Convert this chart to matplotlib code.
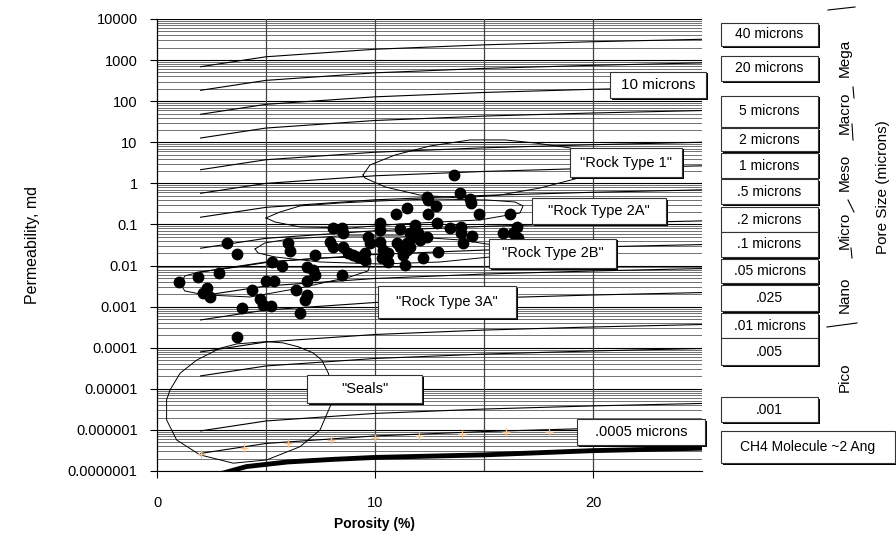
import numpy as np
import matplotlib
matplotlib.use("Agg")
import matplotlib.pyplot as plt
from matplotlib.patches import Rectangle
from matplotlib.ticker import FixedLocator, NullFormatter

plt.rcParams['font.family'] = ['Liberation Sans', 'DejaVu Sans']

line_phi = [2, 5, 10, 15, 20, 25]
# permeability (md) of each pore-throat-size line at those porosities
pore_lines = {
    "40":    [690, 1205, 1837, 2350, 2800, 3210],
    "20":    [184, 321, 490, 627, 746, 855],
    "10":    [48, 83.8, 127.6, 163, 194.5, 223],
    "5":     [12.7, 22.2, 33.9, 43.4, 51.6, 59.2],
    "2":     [2.15, 3.76, 5.73, 7.33, 8.73, 10.0],
    "1":     [0.574, 1.0, 1.53, 1.95, 2.33, 2.67],
    ".5":    [0.150, 0.261, 0.398, 0.509, 0.607, 0.695],
    ".2":    [0.0264, 0.046, 0.0702, 0.0897, 0.107, 0.122],
    ".1":    [0.00698, 0.0122, 0.0186, 0.0238, 0.0283, 0.0324],
    ".05":   [0.00182, 0.00318, 0.00484, 0.0062, 0.00738, 0.00845],
    ".025":  [4.74e-4, 8.28e-4, 1.26e-3, 1.61e-3, 1.92e-3, 2.2e-3],
    ".01":   [7.9e-5, 1.38e-4, 2.1e-4, 2.69e-4, 3.2e-4, 3.67e-4],
    ".005":  [2.06e-5, 3.6e-5, 5.48e-5, 7.0e-5, 8.36e-5, 9.57e-5],
    ".001":  [9.46e-7, 1.65e-6, 2.52e-6, 3.22e-6, 3.84e-6, 4.4e-6],
    ".0005": [2.68e-7, 4.68e-7, 7.13e-7, 9.12e-7, 1.09e-6, 1.24e-6],
}

# .0005 micron calculated points (orange crosses)
mark_phi = [2, 4, 6, 8, 10, 12, 14, 16, 18]
mark_k = [2.61e-7, 3.71e-7, 4.91e-7, 5.71e-7, 6.5e-7, 7.15e-7, 7.85e-7, 8.8e-7, 8.8e-7]

# CH4 molecule line (thick)
ch4_phi = [2.6, 3.0, 4.1, 5, 6, 8, 10, 15, 20, 25]
ch4_k = [7e-8, 8.8e-8, 1.28e-7, 1.45e-7, 1.66e-7, 1.91e-7, 2.14e-7, 2.47e-7, 3.13e-7, 3.59e-7]

# core samples
sample_phi = [3.21, 3.68, 2.84, 1.89, 1.03, 2.28, 2.12, 2.45, 4.36, 5.0, 5.37, 4.72, 4.88,
              5.22, 3.90, 3.68, 5.99, 6.08, 5.26, 5.72, 6.38, 6.56, 6.87, 7.17, 7.25, 8.47,
              6.87, 6.87, 6.79, 7.25, 8.09, 8.47, 8.55, 7.94, 8.09, 8.55, 8.78, 9.0, 9.23,
              9.54, 9.54, 9.69, 9.77, 10.23, 10.38, 10.61, 11.0, 11.15, 11.45, 11.30, 11.76,
              11.61, 10.31, 10.61, 11.38, 12.22, 12.9, 10.23, 10.23, 11.15, 11.83, 11.99,
              12.83, 13.44, 13.94, 13.94, 14.44, 12.37, 12.06, 11.61, 11.45, 14.05, 11.45,
              10.95, 12.44, 12.8, 12.42, 14.4, 14.78, 16.19, 16.5, 15.89, 16.34, 16.57,
              13.62, 13.9, 12.37, 14.36]
sample_k = [0.0349, 0.0186, 0.0067, 0.0054, 0.0039, 0.0029, 0.0021, 0.00175, 0.0026, 0.0043,
            0.0043, 0.0015, 0.00107, 0.00104, 0.00093, 0.00018, 0.0349, 0.0226, 0.0124,
            0.00995, 0.0026, 0.0007, 0.0094, 0.0078, 0.0059, 0.0059, 0.0041, 0.0019, 0.00146,
            0.0181, 0.0809, 0.0809, 0.0611, 0.0382, 0.0288, 0.0288, 0.0199, 0.0181, 0.0165,
            0.0137, 0.0199, 0.0505, 0.0349, 0.0382, 0.024, 0.0199, 0.0349, 0.0288, 0.024,
            0.0181, 0.0505, 0.0288, 0.0151, 0.0124, 0.0104, 0.0151, 0.0218, 0.107, 0.0735,
            0.0764, 0.0972, 0.0611, 0.107, 0.0809, 0.0883, 0.0611, 0.0525, 0.0505, 0.042,
            0.0611, 0.0349, 0.0361, 0.248, 0.18, 0.18, 0.282, 0.394, 0.339, 0.18, 0.18,
            0.0855, 0.0611, 0.0611, 0.0461, 1.63, 0.594, 0.474, 0.41]

# rock type envelopes (porosity, permeability)
rt1_phi = [9.45, 9.77, 10.92, 12.52, 14.36, 15.96, 17.34, 18.94, 20.3, 20.55, 19.86, 18.81,
           17.57, 15.73, 13.9, 12.06, 10.46, 9.54, 9.45]
rt1_k = [1.6, 2.8, 4.9, 8.1, 11.4, 11.4, 9.6, 7.3, 4.15, 2.8, 1.6, 1.14, 0.77, 0.52, 0.44,
         0.52, 0.82, 1.35, 1.6]
rt2a_phi = [5.0, 5.64, 6.56, 8.39, 10.23, 12.52, 15.14, 16.42, 16.79, 16.65, 14.82, 12.98,
            11.15, 8.85, 6.56, 5.41, 5.0]
rt2a_k = [0.144, 0.201, 0.282, 0.333, 0.373, 0.417, 0.394, 0.352, 0.282, 0.19, 0.129, 0.115,
          0.103, 0.082, 0.087, 0.115, 0.144]
rt2b_phi = [4.5, 4.95, 6.10, 8.39, 11.15, 13.9, 15.73, 15.96, 15.73, 12.98, 10.23, 7.48, 5.41,
            4.63, 4.5]
rt2b_k = [0.0254, 0.0355, 0.0444, 0.0525, 0.0525, 0.042, 0.030, 0.0214, 0.0171, 0.0122,
          0.0109, 0.0122, 0.0162, 0.0203, 0.0254]
rt3a_phi = [1.06, 1.28, 1.97, 3.35, 5.18, 7.48, 9.31, 9.82, 9.68, 8.85, 6.56, 4.27, 2.2, 1.28,
            1.06]
rt3a_k = [0.00356, 0.0056, 0.007, 0.0087, 0.0122, 0.0153, 0.0162, 0.0122, 0.0074, 0.0053,
          0.00285, 0.00172, 0.00193, 0.0024, 0.00356]
seal_phi = [5.03, 5.78, 6.47, 7.16, 7.56, 7.86, 8.07, 8.07, 7.94, 7.48, 6.56, 5.03, 3.50,
            1.97, 0.90, 0.44, 0.44, 0.6, 1.06, 1.82, 2.89, 3.66, 5.03]
seal_k = [1.41e-4, 1.31e-4, 1.06e-4, 7.5e-5, 5.0e-5, 2.4e-5, 9.4e-6, 5.4e-6, 3.7e-6, 1.0e-6,
          3.9e-7, 1.86e-7, 1.55e-7, 2.47e-7, 5.7e-7, 1.75e-6, 5.4e-6, 9.4e-6, 2.4e-5, 5.0e-5,
          9.7e-5, 1.24e-4, 1.41e-4]

ytick_vals = [1e-7, 1e-6, 1e-5, 1e-4, 1e-3, 1e-2, 1e-1, 1, 10, 100, 1000, 10000]
ytick_labels = ["0.0000001", "0.000001", "0.00001", "0.0001", "0.001", "0.01", "0.1",
                "1", "10", "100", "1000", "10000"]

W, H = 896, 546
fig = plt.figure(figsize=(W / 100, H / 100), dpi=100)
ax = fig.add_axes([157 / W, 1 - 471 / H, (702 - 157) / W, (471 - 19) / H])
ax.set_yscale('log')
ax.set_xlim(0, 25)
ax.set_ylim(1e-7, 1e4)

# horizontal grid: decades plus 2..9
minor = [m * 10.0 ** e for e in range(-7, 4) for m in range(2, 10)]
for v in minor:
    ax.axhline(v, color='0.35', lw=0.6, zorder=1)
for v in ytick_vals:
    ax.axhline(v, color='black', lw=0.8, zorder=1)
for xv in [5, 10, 15, 20]:
    ax.axvline(xv, color='0.25', lw=0.9, zorder=1)

for name, ks in pore_lines.items():
    ax.plot(line_phi, ks, color='black', lw=0.8, zorder=2)
ax.plot(mark_phi, mark_k, '+', color='#f5c08c', ms=6, mew=1.0, zorder=3)
ax.plot(ch4_phi, ch4_k, color='black', lw=3.5, zorder=3, clip_on=True)

for px, pk in [(rt1_phi, rt1_k), (rt2a_phi, rt2a_k), (rt2b_phi, rt2b_k),
               (rt3a_phi, rt3a_k), (seal_phi, seal_k)]:
    ax.plot(px, pk, color='black', lw=0.7, zorder=2)

ax.plot(sample_phi, sample_k, 'o', color='black', ms=7.5, zorder=4)

ax.yaxis.set_major_locator(FixedLocator(ytick_vals))
ax.set_yticklabels(ytick_labels)
ax.yaxis.set_minor_formatter(NullFormatter())
ax.tick_params(axis='y', which='minor', length=0)
ax.set_xticks([0, 10, 20])
ax.tick_params(axis='both', which='major', length=5, width=0.8, labelsize=10.5, direction='out')
ax.tick_params(axis='x', pad=13)
ax.tick_params(axis='y', pad=9)
for s in ['top', 'right']:
    ax.spines[s].set_visible(False)
ax.spines['left'].set_linewidth(0.9)
ax.spines['bottom'].set_linewidth(0.8)

fig.text(33 / W, 1 - 245 / H, "Permeability, md", rotation=90, ha='center', va='center', fontsize=11.5)
fig.text(374 / W, 1 - 524 / H, "Porosity (%)", ha='center', va='center', fontsize=10, fontweight='bold')


def box(x0, y0, x1, y1, text, fs=8):
    fig.patches.append(Rectangle(((x0 + 1.5) / W, 1 - (y1 + 1.5) / H), (x1 - x0) / W, (y1 - y0) / H,
                                 transform=fig.transFigure, facecolor='black', edgecolor='none', zorder=5))
    fig.patches.append(Rectangle((x0 / W, 1 - y1 / H), (x1 - x0) / W, (y1 - y0) / H,
                                 transform=fig.transFigure, facecolor='white', edgecolor='0.2',
                                 lw=0.8, zorder=6))
    fig.text((x0 + x1) / 2 / W, 1 - (y0 + y1) / 2 / H, text, ha='center', va='center',
             fontsize=fs, zorder=7)


# labels inside the plot
box(610, 72, 706, 98, "10 microns", 11)
box(570, 148, 682, 177, '"Rock Type 1"', 10.5)
box(532, 198, 666, 224, '"Rock Type 2A"', 10.5)
box(489, 239, 616, 268, '"Rock Type 2B"', 10.5)
box(378, 286, 516, 318, '"Rock Type 3A"', 10.5)
box(307, 375, 422, 403, '"Seals"', 10.5)
box(577, 419, 705, 445, ".0005 microns", 10.5)

# pore size scale on the right
scale = [(23, 46, "40 microns"), (56, 81, "20 microns"), (96, 127, "5 microns"),
         (128, 151, "2 microns"), (153, 178, "1 microns"), (179, 204, ".5 microns"),
         (207, 232, ".2 microns"), (232, 257, ".1 microns"), (259, 283, ".05 microns"),
         (285, 311, ".025"), (313, 338, ".01 microns"), (338, 365, ".005"), (397, 422, ".001")]
for t, b, s in scale:
    box(721, t, 818, b, s, 10)
box(721, 431, 895, 463, "CH4 Molecule ~2 Ang", 10)

for yc, s in [(58, "Mega"), (113, "Macro"), (172, "Meso"), (230, "Micro"), (295, "Nano"), (377, "Pico")]:
    fig.text(845 / W, 1 - yc / H, s, rotation=90, ha='center', va='center', fontsize=11)
fig.text(883 / W, 1 - 187 / H, "Pore Size (microns)", rotation=90, ha='center', va='center', fontsize=11)

# separators between pore classes
for (xa, ya, xb, yb) in [(828, 10, 855, 7), (853, 87, 854, 98), (852, 124, 853, 140),
                         (848, 200, 854, 212), (851, 248, 852, 258), (827, 327, 857, 323)]:
    fig.add_artist(plt.Line2D([xa / W, xb / W], [1 - ya / H, 1 - yb / H], color='black', lw=0.8,
                              transform=fig.transFigure))

fig.savefig("out.png", dpi=100)
